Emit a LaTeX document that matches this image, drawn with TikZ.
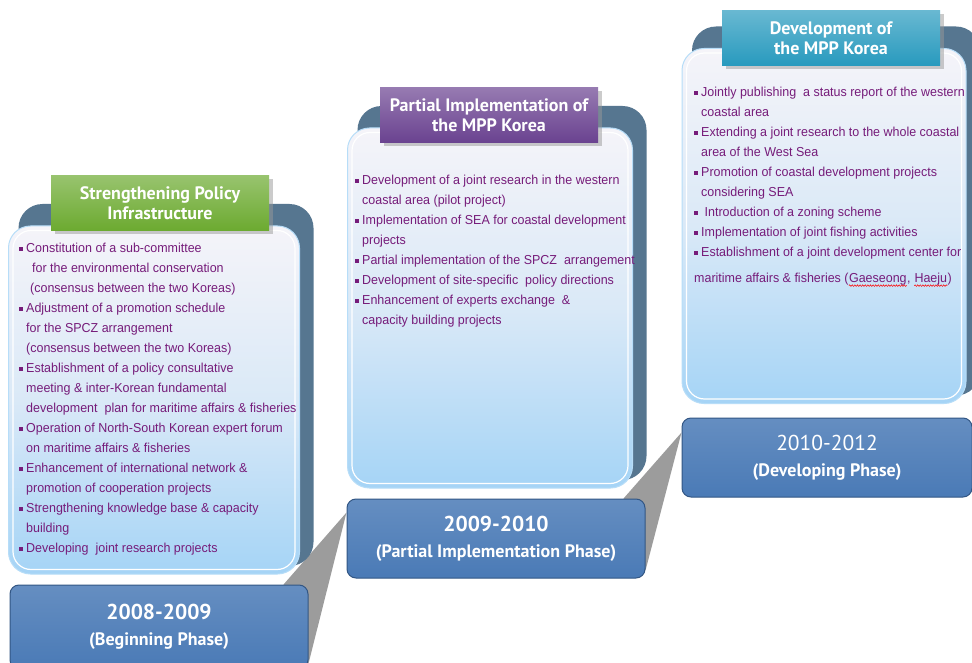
\documentclass[tikz,border=0pt]{standalone}
\usepackage{fontspec}
\setmainfont{Liberation Sans}
\newfontfamily\bodyfont[FakeStretch=0.96]{Liberation Sans}
\newfontfamily\headfont{PT Sans}
\usetikzlibrary{calc,backgrounds,shadows,decorations.pathmorphing}

\definecolor{itemtext}{RGB}{118,28,122}
\definecolor{panelback}{RGB}{86,118,144}
\definecolor{paneltop}{RGB}{245,244,249}
\definecolor{panelmid}{RGB}{218,233,247}
\definecolor{panelbot}{RGB}{165,212,246}
\definecolor{yearfill}{RGB}{74,122,182}
\definecolor{yeardraw}{RGB}{50,86,132}
\definecolor{wedgegray}{RGB}{156,156,156}
\definecolor{tabgreen}{RGB}{108,170,48}
\definecolor{tabpurple}{RGB}{106,66,144}
\definecolor{tabteal}{RGB}{40,154,190}

\newcommand{\itm}{\rule[1.8pt]{3.4pt}{3.4pt}\hspace{3.6pt}}
\newcommand{\cnt}{\hspace*{7pt}}
\newcommand{\wavy}[1]{\tikz[baseline=(w.base)]{
  \node[inner sep=0pt, anchor=base] (w) at (0pt,0pt) {#1};
  \draw[red, line width=0.5pt, decorate, decoration={snake, amplitude=0.8pt, segment length=2.6pt}]
    ([yshift=-3pt]w.base west) -- ([yshift=-3pt]w.base east);}}

\begin{document}
\begin{tikzpicture}[x=1pt,y=-1pt,
  backpanel/.style={fill=panelback, rounded corners=24pt, inner sep=0pt},
  frontpanel/.style={rounded corners=22pt, inner sep=0pt, draw=panelbot!80!white, line width=1pt,
    top color=paneltop, bottom color=panelbot, middle color=panelmid},
  tab/.style={inner sep=0pt, align=center, text=white,
    font=\headfont\bfseries\fontsize{18}{20}\selectfont,
    drop shadow={shadow xshift=4pt, shadow yshift=-4pt, fill=black!40}},
  yearbox/.style={rounded corners=9pt, inner sep=0pt, align=center, text=white,
    draw=yeardraw, line width=1pt, top color=yearfill!85!white, bottom color=yearfill,
    font=\headfont\bfseries\fontsize{18}{26}\selectfont},
  items/.style={anchor=north west, inner sep=0pt, align=left, text=itemtext,
    font=\bodyfont\fontsize{13}{20}\selectfont}
]
\useasboundingbox (0,0) rectangle (972,663);

% the three phase panels
\foreach \n/\cx/\cy/\w/\h/\tx/\ty/\tc/\ttl in {
    1/154/400/291/348/160/203/tabgreen/{Strengthening Policy\\Infrastructure},
    2/490/308/285/360/489/115/tabpurple/{Partial Implementation of\\the MPP Korea},
    3/824/226/284/355/831/38/tabteal/{Development of\\the MPP Korea}}{
  \node[backpanel, minimum width=\w+4, minimum height=\h+14] (b\n) at (\cx+12,\cy-15) {};
  \node[frontpanel, minimum width=\w, minimum height=\h] (p\n) at (\cx,\cy) {};
  \draw[white, line width=1.2pt, rounded corners=18pt]
    ($(p\n.north west)+(5,5)$) rectangle ($(p\n.south east)+(-5,-5)$);
  \node[tab, top color=\tc!70!white, bottom color=\tc, minimum width=218, minimum height=55]
    (t\n) at (\tx,\ty) {\ttl};
}

\node[items] (l1) at (19,243) {%
\itm Constitution of a sub-committee\\
\cnt\hspace*{6pt}for the environmental conservation\\
\cnt\hspace*{4pt}(consensus between the two Koreas)\\
\itm Adjustment of a promotion schedule\\
\cnt for the SPCZ arrangement\\
\cnt(consensus between the two Koreas)\\
\itm Establishment of a policy consultative\\
\cnt meeting \& inter-Korean fundamental\\
\cnt development\ \ plan for maritime affairs \& fisheries\\
\itm Operation of North-South Korean expert forum\\
\cnt on maritime affairs \& fisheries\\
\itm Enhancement of international network \&\\
\cnt promotion of cooperation projects\\
\itm Strengthening knowledge base \& capacity\\
\cnt building\\
\itm Developing\ \ joint research projects};

\node[items] (l2) at (355,175) {%
\itm Development of a joint research in the western\\
\cnt coastal area (pilot project)\\
\itm Implementation of SEA for coastal development\\
\cnt projects\\
\itm Partial implementation of the SPCZ\ \ arrangement\\
\itm Development of site-specific\ \ policy directions\\
\itm Enhancement of experts exchange\ \ \&\\
\cnt capacity building projects};

\node[items] (l3) at (694,87) {%
\itm Jointly publishing\ \ a status report of the western\\
\cnt coastal area\\
\itm Extending a joint research to the whole coastal\\
\cnt area of the West Sea\\
\itm Promotion of coastal development projects\\
\cnt considering SEA\\
\itm\ Introduction of a zoning scheme\\
\itm Implementation of joint fishing activities\\
\itm Establishment of a joint development center for\\[6pt]
maritime affairs \& fisheries (\wavy{Gaeseong}, \wavy{Haeju})};

% year boxes
\node[yearbox, minimum width=298, minimum height=84] (yr1) at (159,627)
  {{\fontsize{21.5}{26}\selectfont 2008-2009}\\(Beginning Phase)};
\node[yearbox, minimum width=298, minimum height=79] (yr2) at (496,538.5)
  {{\fontsize{21.5}{26}\selectfont 2009-2010}\\(Partial Implementation Phase)};
\node[yearbox, minimum width=290, minimum height=79] (yr3) at (827,457.5)
  {{\mdseries\fontsize{21.5}{26}\selectfont 2010-2012}\\(Developing Phase)};

\begin{scope}[on background layer]
  \fill[white] (0,0) rectangle (972,663);
  \fill[wedgegray] ($(yr1.north east)+(-25,0)$) -- ($(yr2.north west)+(0,14)$)
    -- ($(yr1.south east)+(0,-6)$) -- cycle;
  \fill[wedgegray] ($(yr2.north east)+(-22,0)$) -- ($(yr3.north west)+(0,15)$)
    -- ($(yr2.south east)+(0,-8)$) -- cycle;
\end{scope}
\end{tikzpicture}
\end{document}
